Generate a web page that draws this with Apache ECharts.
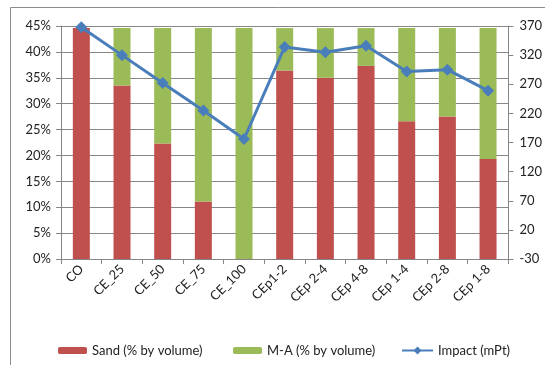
<!DOCTYPE html>
<html><head><meta charset="utf-8">
<script src="https://cdn.jsdelivr.net/npm/echarts@6/dist/echarts.min.js"></script>
<style>html,body{margin:0;padding:0;background:#fff}#c{width:545px;height:365px}</style>
</head><body><div id="c"></div>
<script>
const categories = ['CO','CE_25','CE_50','CE_75','CE_100','CEp1-2','CEp 2-4','CEp 4-8','CEp 1-4','CEp 2-8','CEp 1-8'];
const sand = [44.6, 33.5, 22.3, 11.1, 0, 36.4, 35.0, 37.3, 26.6, 27.5, 19.3];
const ma = [0, 11.1, 22.3, 33.5, 44.6, 8.2, 9.6, 7.3, 18.0, 17.1, 25.3];
const impact = [368, 320, 272, 225, 176, 334, 325, 336, 292, 295, 259];
const leftTicks = [0,5,10,15,20,25,30,35,40,45];
const rightTicks = [-30,20,70,120,170,220,270,320,370];

const font = 'Lato, "Open Sans", sans-serif';
const chart = echarts.init(document.getElementById('c'), null, {renderer:'canvas'});
const axisGrey = '#868686';
const fs = 13;
chart.setOption({
  animation:false,
  textStyle:{fontFamily:font},
  graphic:[{type:'rect',shape:{x:10.5,y:7.5,width:600,height:400},style:{fill:'none',stroke:'#8c8c8c',lineWidth:1}}],
  grid:{left:61,right:33,top:26,bottom:106},
  legend:[
    {data:['Sand (% by volume)'],left:53,top:339,itemWidth:29,itemHeight:7,textStyle:{fontSize:fs,color:'#222',fontFamily:font}},
    {data:['M-A (% by volume)'],left:228,top:339,itemWidth:29,itemHeight:7,textStyle:{fontSize:fs,color:'#222',fontFamily:font}},
    {data:['Impact (mPt)'],left:396,top:339,itemWidth:31,itemHeight:10,textStyle:{fontSize:fs,color:'#222',fontFamily:font}}
  ],
  xAxis:{type:'category',data:categories,
    axisLine:{lineStyle:{color:axisGrey}},
    axisTick:{show:true,length:5,lineStyle:{color:axisGrey}},
    axisLabel:{rotate:45,fontSize:fs,color:'#222',margin:8,fontFamily:font,interval:0}},
  yAxis:[
    {type:'value',min:0,max:45,interval:5,
     axisLine:{show:true,lineStyle:{color:axisGrey}},
     axisTick:{show:true,length:5,lineStyle:{color:axisGrey}},
     splitLine:{lineStyle:{color:axisGrey,width:1}},
     axisLabel:{formatter:'{value}%',fontSize:fs,color:'#222',margin:10,fontFamily:font,customValues:leftTicks}},
    {type:'value',min:-30,max:370,position:'right',
     axisLine:{show:true,lineStyle:{color:axisGrey}},
     axisTick:{show:true,length:5,lineStyle:{color:axisGrey},customValues:rightTicks},
     splitLine:{show:false},
     axisLabel:{fontSize:fs,color:'#222',margin:11,fontFamily:font,customValues:rightTicks}}
  ],
  series:[
    {name:'Sand (% by volume)',type:'bar',stack:'s',data:sand,barWidth:17,itemStyle:{color:'#C0504D'}},
    {name:'M-A (% by volume)',type:'bar',stack:'s',data:ma,barWidth:17,itemStyle:{color:'#9BBB59'}},
    {name:'Impact (mPt)',type:'line',yAxisIndex:1,data:impact,symbol:'diamond',symbolSize:12,
     lineStyle:{color:'#4A7EBB',width:3},itemStyle:{color:'#4A7EBB'}}
  ]
});
</script></body></html>
